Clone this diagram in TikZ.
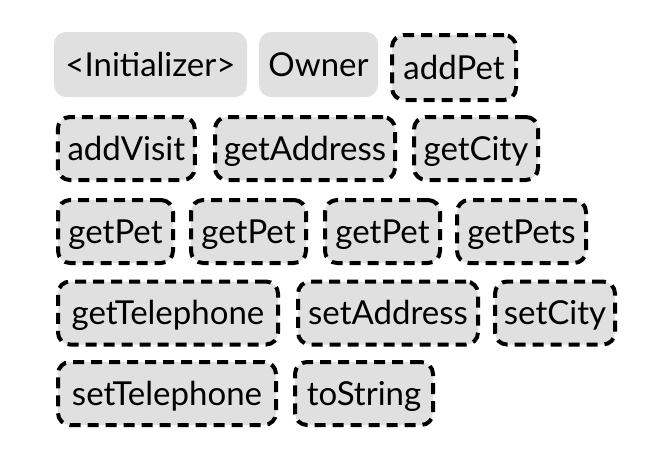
\documentclass[tikz,border=0pt]{standalone}
\usepackage{fontspec}
\setmainfont{Lato}
\usepackage{tikz}
\usepackage{xcolor}
\definecolor{boxgray}{RGB}{224,224,224}

\begin{document}
\begin{tikzpicture}[x=1pt, y=-1pt,
  member/.style={fill=boxgray, rounded corners=12pt, inner sep=0pt, minimum height=65pt,
    text height=23pt, text depth=0pt, font=\fontsize{33}{38}\selectfont},
  called/.style={member, draw=black, line width=4pt, dash pattern=on 11pt off 7pt, minimum height=63pt}]
\useasboundingbox (0,0) rectangle (645,459);
% row 1
\node[member, minimum width=193pt] (init) at (150.5,64.5) {<Initializer>};
\node[member, minimum width=119pt] (owner) at (318.5,64.5) {Owner};
\node[called, minimum width=124pt, minimum height=65pt] (addpet) at (454,67.5) {addPet};
% row 2
\node[called, minimum width=137pt] (addvisit) at (126.3,148.5) {addVisit};
\node[called, minimum width=180pt] (getaddress) at (305,148.5) {getAddress};
\node[called, minimum width=124pt] (getcity) at (476,148.5) {getCity};
% row 3
\node[called, minimum width=115pt] (getpeta) at (115.5,231.5) {getPet};
\node[called, minimum width=115pt] (getpetb) at (248.5,231.5) {getPet};
\node[called, minimum width=115pt] (getpetc) at (382.5,231.5) {getPet};
\node[called, minimum width=129pt] (getpets) at (521.5,231.5) {getPets};
% row 4
\node[called, minimum width=220pt] (gettelephone) at (168,313) {getTelephone};
\node[called, minimum width=180pt] (setaddress) at (388,313) {setAddress};
\node[called, minimum width=120pt] (setcity) at (555,313) {setCity};
% row 5
\node[called, minimum width=218pt] (settelephone) at (167,393.5) {setTelephone};
\node[called, minimum width=138pt] (tostring) at (364,393.5) {toString};
\end{tikzpicture}
\end{document}
